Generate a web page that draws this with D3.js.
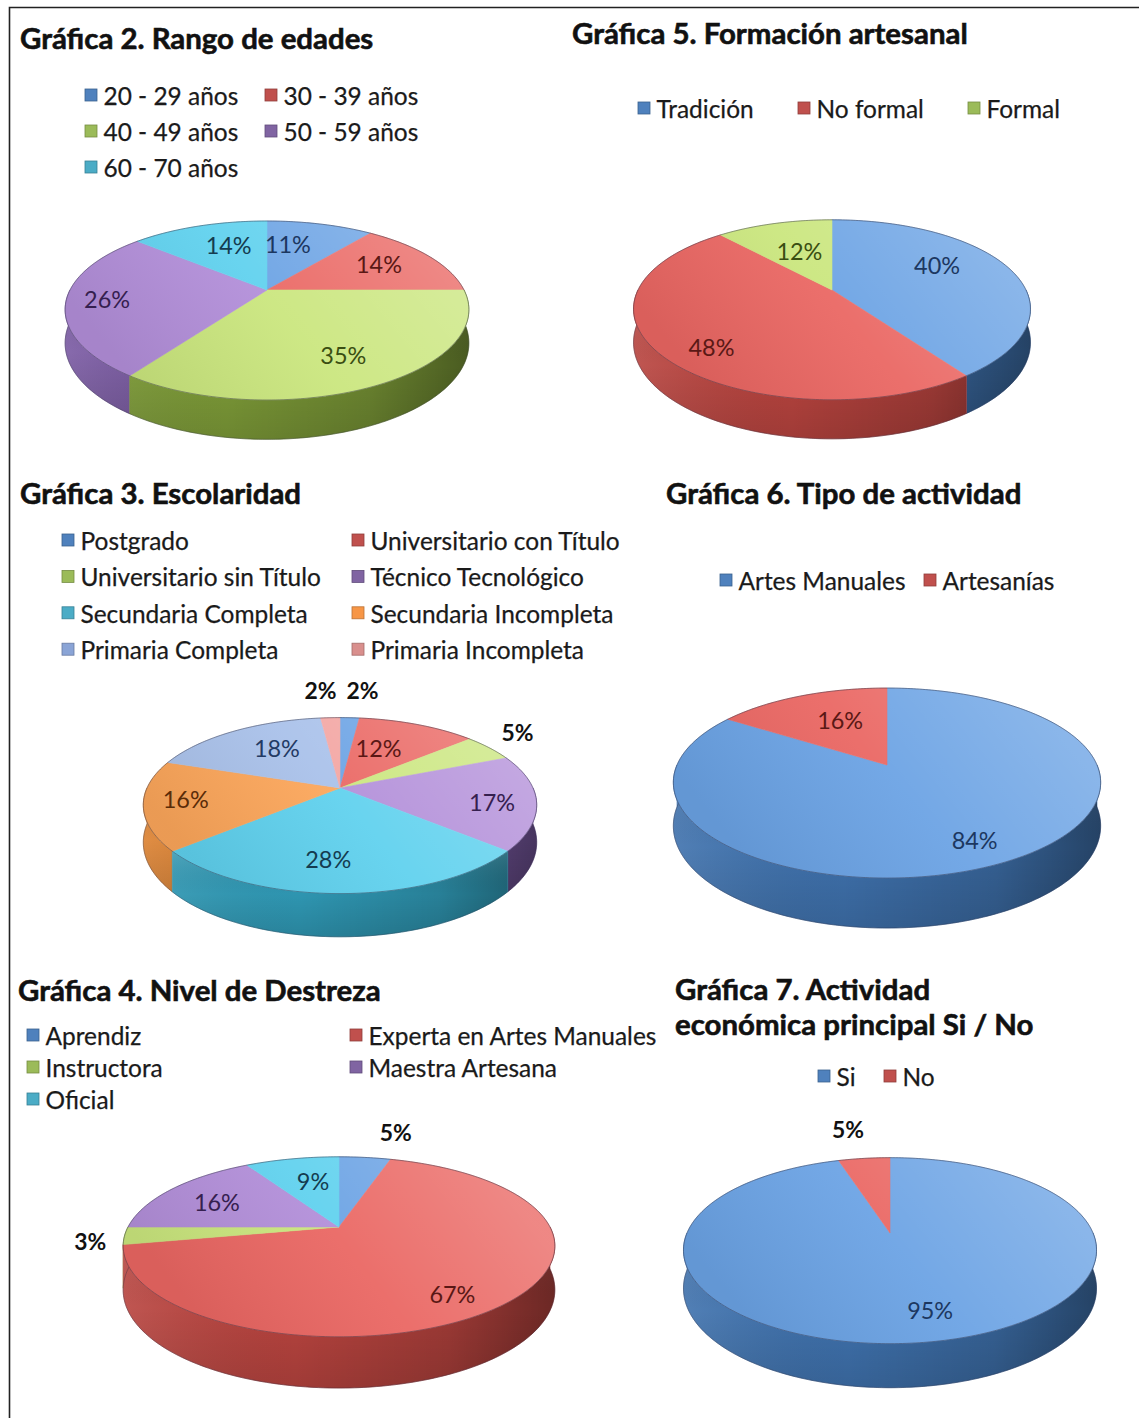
<!DOCTYPE html>
<html><head><meta charset="utf-8">
<script src="https://cdn.jsdelivr.net/npm/d3@7"></script>
<style>body{margin:0;background:#fff} svg{display:block}</style>
</head><body>
<svg id="c" width="1139" height="1418"></svg>
<script>
// ---------------- DATA ----------------
const edadCats = ["20 - 29 años","30 - 39 años","40 - 49 años","50 - 59 años","60 - 70 años"];
const edadVals = [11,14,35,26,14];
const formacionCats = ["Tradición","No formal","Formal"];
const formacionVals = [40,48,12];
const escolaridadCats = ["Postgrado","Universitario con Título","Universitario sin Título","Técnico Tecnológico","Secundaria Completa","Secundaria Incompleta","Primaria Completa","Primaria Incompleta"];
const escolaridadVals = [2,12,5,17,28,16,18,2];
const actividadCats = ["Artes Manuales","Artesanías"];
const actividadVals = [84,16];
const destrezaCats = ["Aprendiz","Experta en Artes Manuales","Instructora","Maestra Artesana","Oficial"];
const destrezaVals = [5,67,3,16,9];
const economicaCats = ["Si","No"];
const economicaVals = [95,5];

// ---------------- STYLE ----------------
const pal = {
  blue:   {legend:"#4f81bd", top:"#6aa2e4", side:"#3f72ae", label:"#1c3760"},
  red:    {legend:"#c0504d", top:"#ea6662", side:"#b9443f", label:"#5a1815"},
  green:  {legend:"#9bbb59", top:"#cae67d", side:"#7e9c38", label:"#3a4e12"},
  purple: {legend:"#8064a2", top:"#b28ed9", side:"#7a5aa3", label:"#35204f"},
  cyan:   {legend:"#4bacc6", top:"#5fd1ee", side:"#2f98b4", label:"#143c50"},
  orange: {legend:"#f79646", top:"#fca65a", side:"#dc8130", label:"#5a2c08"},
  lblue:  {legend:"#8aa4d6", top:"#a9c1ea", side:"#7e95c2", label:"#233a64"},
  pink:   {legend:"#d98f8d", top:"#f3a5a2", side:"#c88280", label:"#5c2a28"}
};
const FONT = "Lato, 'Open Sans', sans-serif";

const charts = [
  {title:["Gráfica 2. Rango de edades"], tx:20, ty:[38], cats:edadCats, vals:edadVals,
   colors:["blue","red","green","purple","cyan"],
   legend:{cols:[85,265], y0:96, dy:36},
   geo:{cx:267, cy:290, rx:197, ry:89.5, p:0.229, h:32},
   lab:[[0.6,-8],[0.68,-1],[0.72,-1],[0.8,0],[0.62,4]]},
  {title:["Gráfica 5. Formación artesanal"], tx:572, ty:[33], cats:formacionCats, vals:formacionVals,
   colors:["blue","red","green"],
   legend:{cols:[638,798,968], y0:109, dy:36},
   geo:{cx:832, cy:290, rx:194, ry:90, p:0.22, h:32},
   lab:[[0.65,-9],[0.79,-6],[0.51,0]]},
  {title:["Gráfica 3. Escolaridad"], tx:20, ty:[493], cats:escolaridadCats, vals:escolaridadVals,
   colors:["blue","red","green","purple","cyan","orange","lblue","pink"],
   legend:{cols:[62,352], y0:541, dy:36.4},
   geo:{cx:340, cy:788, rx:193, ry:88, p:0.2, h:36},
   lab:[[1.39,2.4],[0.55,-5],[1.31,-3.9],[0.78,3],[0.71,4.3],[0.79,1.3],[0.62,3.7],[1.39,-1.6]]},
  {title:["Gráfica 6. Tipo de actividad"], tx:666, ty:[493], cats:actividadCats, vals:actividadVals,
   colors:["blue","red"],
   legend:{cols:[720,924], y0:581, dy:36},
   geo:{cx:887, cy:765, rx:210, ry:95, p:0.19, h:42},
   lab:[[0.79,1],[0.58,3.5]]},
  {title:["Gráfica 4. Nivel de Destreza"], tx:18, ty:[990], cats:destrezaCats, vals:destrezaVals,
   colors:["blue","red","green","purple","cyan"],
   legend:{cols:[27,350], y0:1036, dy:32},
   geo:{cx:339, cy:1227, rx:211, ry:90, p:0.22, h:42},
   lab:[[1.38,5.5],[0.81,6],[1.15,-2.6],[0.68,-4],[0.59,2.4]]},
  {title:["Gráfica 7. Actividad","económica principal Si / No"], tx:675, ty:[989,1024], cats:economicaCats, vals:economicaVals,
   colors:["blue","red"],
   legend:{cols:[818,884], y0:1077, dy:36},
   geo:{cx:890, cy:1233, rx:203, ry:93, p:0.19, h:37},
   lab:[[0.75,-4.4],[1.39,-1.6]]}
];

// ---------------- DRAW ----------------
const svg = d3.select("#c");
const defs = svg.append("defs");

function fitSize(text, weight, target){
  const t = svg.append("text").attr("font-family",FONT).attr("font-weight",weight).attr("font-size",100).text(text);
  const w = t.node().getComputedTextLength(); t.remove();
  return 100*target/w;
}
const legendSize = fitSize("Experta en Artes Manuales", 400, 288);
const titleSize  = fitSize("Gráfica 5. Formación artesanal", 700, 396);
const labelSize  = fitSize("35%", 400, 46);
const outSize    = fitSize("5%", 700, 32);

// frame
svg.append("path").attr("d","M9.5,1418 V7.5 H1139").attr("fill","none").attr("stroke","#222").attr("stroke-width",1.6);

const pie = d3.pie().sort(null).value(d=>d);
const line = d3.line();

function proj(g, a, r, z){
  const u = r*Math.sin(a), v = -r*Math.cos(a);
  const s = 1 + g.p*Math.max(-1, Math.min(1, v));
  return [g.cx + g.rx*u*s, g.cy + g.ry*v*s + (z||0)*s];
}

charts.forEach((c, ci) => {
  const g = c.geo;
  const arcs = pie(c.vals);
  const G = svg.append("g");

  function arcPts(a0, a1, z){
    const n = Math.max(2, Math.ceil((a1-a0)/(Math.PI/180)));
    return d3.range(n+1).map(i => proj(g, a0+(a1-a0)*i/n, 1, z));
  }

  const left = g.cx - g.rx*1.03, right = g.cx + g.rx*1.03;
  const sg = defs.append("linearGradient").attr("id","sg"+ci).attr("gradientUnits","userSpaceOnUse")
    .attr("x1",left).attr("x2",right).attr("y1",0).attr("y2",0);
  sg.selectAll("stop").data([[0,"#fff",0.10],[0.4,"#000",0.02],[0.75,"#000",0.16],[1,"#000",0.42]]).join("stop")
    .attr("offset",d=>d[0]).attr("stop-color",d=>d[1]).attr("stop-opacity",d=>d[2]);
  const sv = defs.append("linearGradient").attr("id","sv"+ci).attr("gradientUnits","objectBoundingBox")
    .attr("x1",0).attr("x2",0).attr("y1",0).attr("y2",1);
  sv.selectAll("stop").data([[0,"#fff",0.10],[0.5,"#000",0.0],[1,"#000",0.12]]).join("stop")
    .attr("offset",d=>d[0]).attr("stop-color",d=>d[1]).attr("stop-opacity",d=>d[2]);
  const tg = defs.append("linearGradient").attr("id","tg"+ci).attr("gradientUnits","userSpaceOnUse")
    .attr("x1",g.cx+g.rx*0.6).attr("y1",g.cy-g.ry).attr("x2",g.cx-g.rx*0.6).attr("y2",g.cy+g.ry*1.2);
  tg.selectAll("stop").data([[0,"#fff",0.22],[0.5,"#fff",0.06],[1,"#000",0.07]]).join("stop")
    .attr("offset",d=>d[0]).attr("stop-color",d=>d[1]).attr("stop-opacity",d=>d[2]);

  // side walls (front half), far pieces first
  const walls = [];
  arcs.forEach((d,i) => {
    const a0 = Math.max(d.startAngle, Math.PI/2), a1 = Math.min(d.endAngle, 3*Math.PI/2);
    if (a1 > a0) walls.push({i, a0, a1, m: Math.abs((a0+a1)/2 - Math.PI)});
  });
  walls.sort((a,b) => b.m - a.m);
  walls.forEach(w => {
    const col = pal[c.colors[w.i]];
    const pts = arcPts(w.a0, w.a1, 0).concat(arcPts(w.a0, w.a1, g.h).reverse());
    const dp = line(pts) + "Z";
    G.append("path").attr("d",dp).attr("fill",col.side).attr("stroke",col.side).attr("stroke-width",0.6);
    G.append("path").attr("d",dp).attr("fill",`url(#sg${ci})`);
    G.append("path").attr("d",dp).attr("fill",`url(#sv${ci})`);
  });
  // bottom outline
  G.append("path").attr("d", line(arcPts(Math.PI/2-0.25, 3*Math.PI/2+0.25, g.h)))
    .attr("fill","none").attr("stroke","rgba(40,40,60,0.35)").attr("stroke-width",1);

  // top slices
  arcs.forEach((d,i) => {
    const col = pal[c.colors[i]];
    const pts = [[g.cx, g.cy]].concat(arcPts(d.startAngle, d.endAngle, 0));
    G.append("path").attr("d", line(pts)+"Z").attr("fill",col.top).attr("stroke",col.top).attr("stroke-width",0.6).attr("stroke-linejoin","round");
  });
  G.append("path").attr("d", line(arcPts(0, 2*Math.PI, 0))+"Z")
    .attr("fill",`url(#tg${ci})`).attr("stroke","rgba(40,40,60,0.45)").attr("stroke-width",1);

  // data labels
  arcs.forEach((d,i) => {
    const [r, da] = c.lab[i];
    const a = (d.startAngle + d.endAngle)/2 + da*Math.PI/180;
    const [x, y] = proj(g, a, r, 0);
    const out = r > 1;
    const fs = out ? outSize : labelSize;
    G.append("text").attr("x",x).attr("y",y + 0.36*fs).attr("text-anchor","middle")
      .attr("font-family",FONT).attr("font-size",fs).attr("font-weight", out ? 700 : 400)
      .attr("fill", out ? "#111" : pal[c.colors[i]].label)
      .text(d.data + "%");
  });

  // title
  c.title.forEach((t,k) => {
    G.append("text").attr("x",c.tx).attr("y",c.ty[k] + 0.36*titleSize)
      .attr("font-family",FONT).attr("font-weight",700).attr("font-size",titleSize)
      .attr("fill","#111").attr("stroke","#111").attr("stroke-width",0.6).text(t);
  });

  // legend
  const nc = c.legend.cols.length;
  c.cats.forEach((name,i) => {
    const x = c.legend.cols[i % nc], y = c.legend.y0 + Math.floor(i / nc)*c.legend.dy;
    const col = pal[c.colors[i]];
    G.append("rect").attr("x",x).attr("y",y-7).attr("width",12).attr("height",12)
      .attr("fill",col.legend).attr("stroke",d3.color(col.legend).darker(0.8)).attr("stroke-width",0.8);
    G.append("text").attr("x",x+18.5).attr("y",y + 0.36*legendSize)
      .attr("font-family",FONT).attr("font-size",legendSize).attr("fill","#1a1a1a")
      .attr("stroke","#1a1a1a").attr("stroke-width",0.25).text(name);
  });
});
</script>
</body></html>
